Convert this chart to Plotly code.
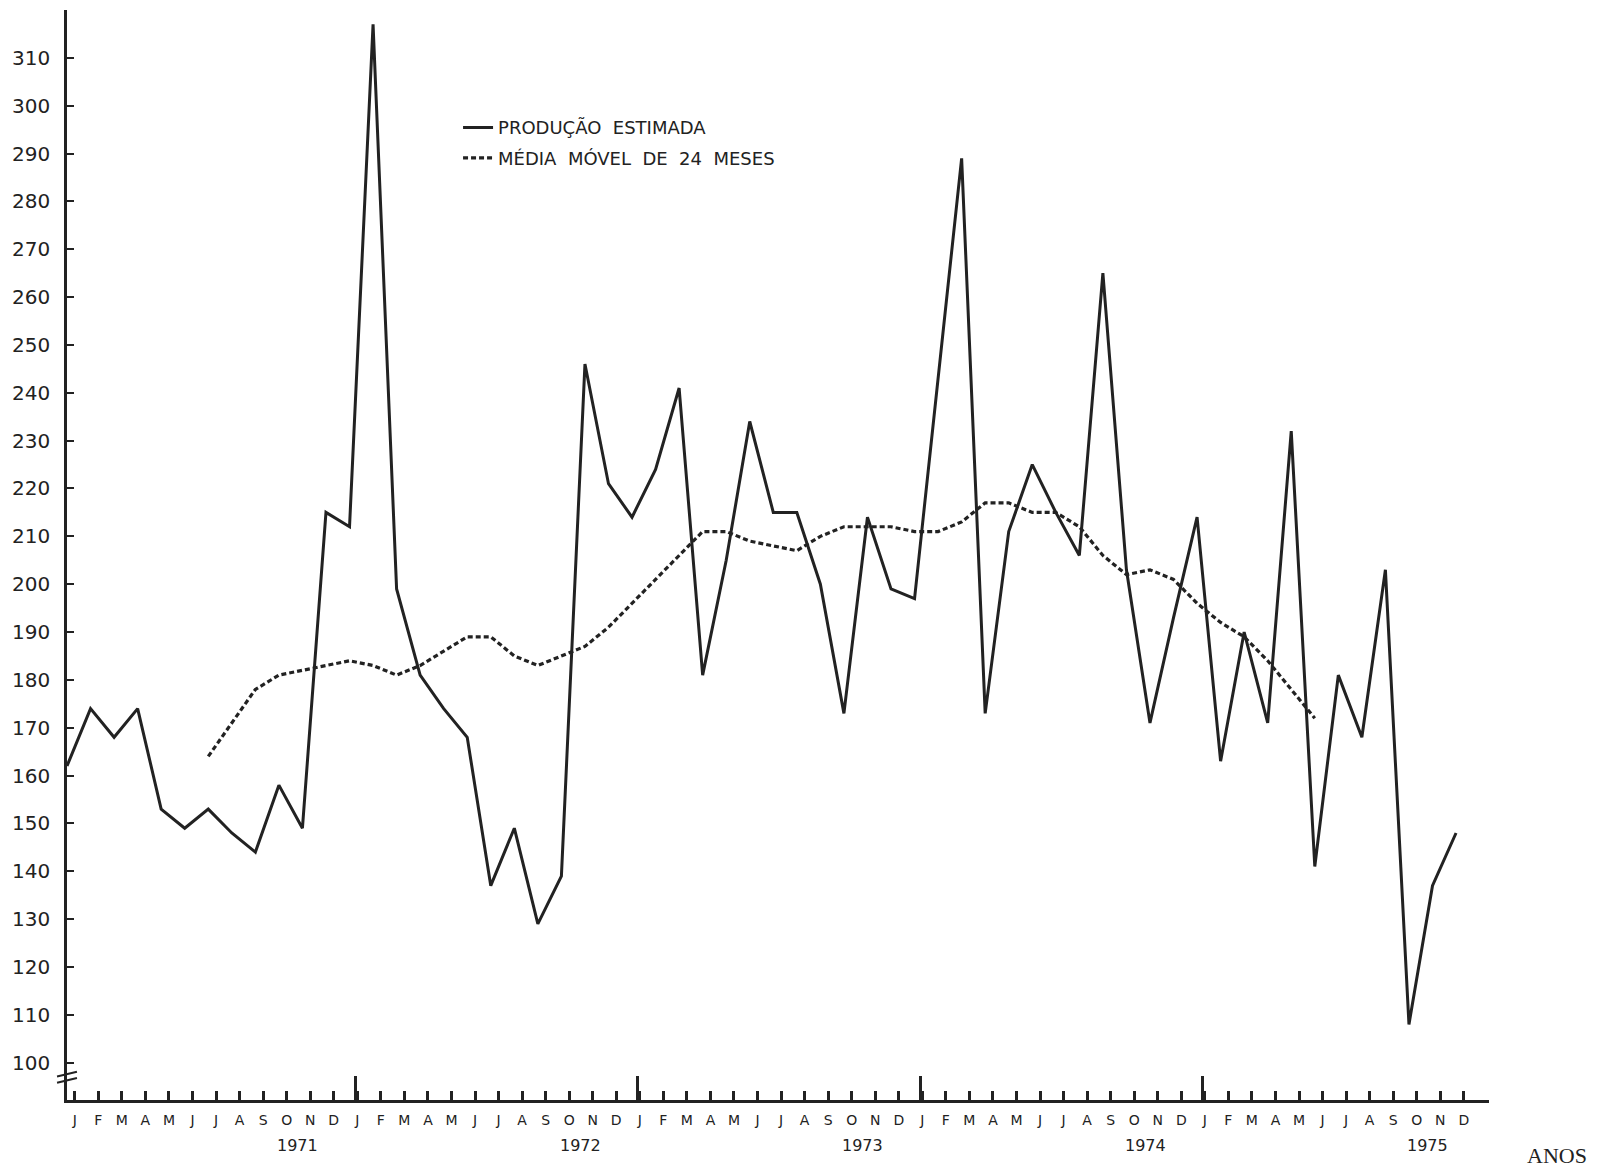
import plotly.graph_objects as go

# ---- data ----
month_letters = ["J", "F", "M", "A", "M", "J", "J", "A", "S", "O", "N", "D"]
years = [1971, 1972, 1973, 1974, 1975]

producao = [162, 174, 168, 174, 153, 149, 153, 148, 144, 158, 149, 215,
            212, 317, 199, 181, 174, 168, 137, 149, 129, 139, 246, 221,
            214, 224, 241, 181, 205, 234, 215, 215, 200, 173, 214, 199,
            197, 243, 289, 173, 211, 225, 215, 206, 265, 203, 171, 193,
            214, 163, 190, 171, 232, 141, 181, 168, 203, 108, 137, 148]

media_movel = [None, None, None, None, None, None, 164, 171, 178, 181, 182, 183,
               184, 183, 181, 183, 186, 189, 189, 185, 183, 185, 187, 191,
               196, 201, 206, 211, 211, 209, 208, 207, 210, 212, 212, 212,
               211, 211, 213, 217, 217, 215, 215, 212, 206, 202, 203, 201,
               196, 192, 189, 184, 178, 172, None, None, None, None, None, None]

y_ticks = list(range(100, 311, 10))

# ---- derived ----
n = len(producao)
x_idx = list(range(n))
month_text = [month_letters[i % 12] for i in x_idx]
label_off = 0.33
tick_pos = [i + label_off for i in x_idx]
jan_pos = [i + label_off - 0.08 for i in x_idx if i % 12 == 0 and i > 0]
year_pos = [12 * k + 9.8 for k in range(len(years))]

INK = "#222222"
FONT = "DejaVu Sans"

fig = go.Figure()
fig.add_trace(go.Scatter(
    x=x_idx, y=producao, mode="lines", name="PRODUÇÃO  ESTIMADA",
    line=dict(color=INK, width=3), legend="legend"))
fig.add_trace(go.Scatter(
    x=x_idx, y=media_movel, mode="lines", name="MÉDIA  MÓVEL  DE  24  MESES",
    line=dict(color=INK, width=3.2, dash="5px,3px"), legend="legend2"))
# helper trace for the overlay axis carrying the long January ticks
fig.add_trace(go.Scatter(x=[None], y=[None], xaxis="x2", showlegend=False,
                         hoverinfo="skip"))

xr = [0, 60.4]
fig.update_layout(
    width=1597, height=1163,
    margin=dict(l=59, r=116, t=2, b=71),
    paper_bgcolor="white", plot_bgcolor="white",
    font=dict(family=FONT, color=INK),
    xaxis=dict(range=xr, showgrid=False, zeroline=False,
               showline=True, linecolor=INK, linewidth=2.5,
               tickmode="array", tickvals=tick_pos, ticktext=month_text,
               ticks="inside", ticklen=9, tickwidth=2.5, tickcolor=INK,
               ticklabelstandoff=5,
               tickfont=dict(size=14, family=FONT, color=INK)),
    xaxis2=dict(range=xr, overlaying="x", anchor="y", side="bottom",
                showgrid=False, zeroline=False, showline=False,
                tickmode="array", tickvals=jan_pos, showticklabels=False,
                ticks="inside", ticklen=24, tickwidth=2.5, tickcolor=INK),
    yaxis=dict(range=[92.2, 320], showgrid=False, zeroline=False,
               showline=True, linecolor=INK, linewidth=2.5,
               tickmode="array", tickvals=y_ticks,
               ticks="inside", ticklen=7, tickwidth=2, tickcolor=INK,
               ticklabelstandoff=10,
               tickfont=dict(size=20, family=FONT, color=INK)),
    legend=dict(x=0.275, y=0.892, xanchor="left", yanchor="middle",
                bgcolor="rgba(0,0,0,0)", font=dict(size=18, family=FONT, color=INK)),
    legend2=dict(x=0.275, y=0.864, xanchor="left", yanchor="middle",
                 bgcolor="rgba(0,0,0,0)", font=dict(size=18, family=FONT, color=INK)),
    showlegend=True,
)

for yp, yr in zip(year_pos, years):
    fig.add_annotation(x=yp, y=0, xref="x", yref="paper", yshift=-57,
                       text=str(yr), showarrow=False,
                       font=dict(size=16, family=FONT, color=INK))

fig.add_annotation(x=1.07, y=-0.064, xref="paper", yref="paper",
                   text="ANOS", showarrow=False,
                   font=dict(size=22, family="Liberation Serif", color=INK))

# axis-break marks on the y axis
for yb in (96.3, 97.6):
    fig.add_shape(type="line", xref="paper", yref="y",
                  x0=-0.007, x1=0.007, y0=yb - 0.5, y1=yb + 0.5,
                  line=dict(color=INK, width=2))

fig.write_html("out.html")
